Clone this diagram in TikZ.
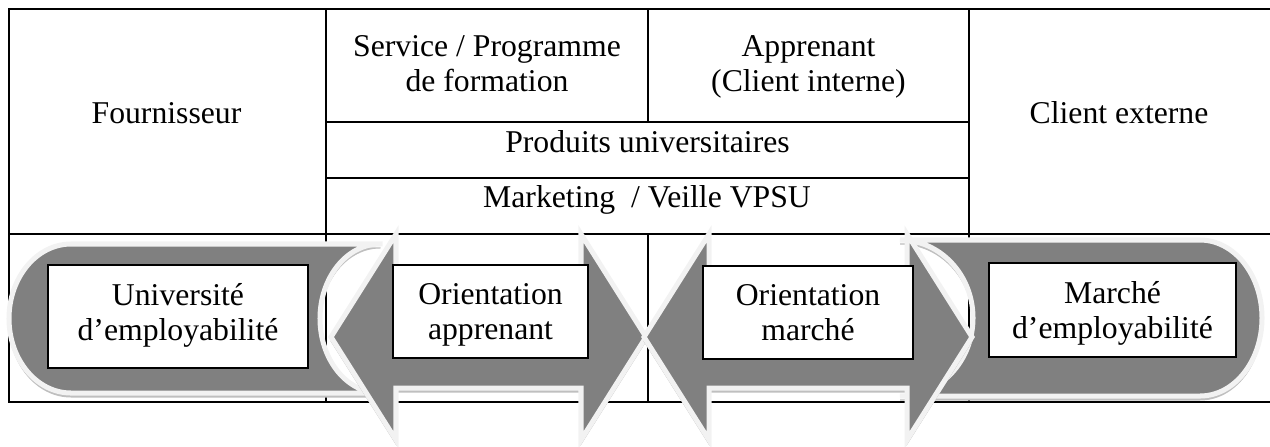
\documentclass[tikz,border=0pt]{standalone}
\usepackage{fontspec}
\setmainfont{Liberation Serif}
\usepackage{tikz}
\usetikzlibrary{shadows}
\newlength\pxu
\setlength\pxu{0.3785pt}
\tikzset{cell/.style={font=\fontsize{12}{13.3}\selectfont, align=center, inner sep=0pt},
  tabline/.style={line width=0.75pt},
  band/.style={fill=black!50, draw=black!5, line width=1.9pt,
    preaction={fill=black!25, draw=black!25, transform canvas={yshift=-1.5pt}}},
  lbl/.style={draw=black, fill=white, line width=0.7pt, inner sep=0pt,
    drop shadow={shadow xshift=0.5pt, shadow yshift=-0.5pt, fill=black!55, opacity=1}}}

\begin{document}
\begin{tikzpicture}[x=\pxu, y=-\pxu]
\useasboundingbox (0,0) rectangle (1270,446);
\draw[tabline] (1270,9) -- (9,9) -- (9,402) -- (1270,402);
\draw[tabline] (9,234) -- (1270,234);
\draw[tabline] (326,122) -- (969,122);
\draw[tabline] (326,178) -- (969,178);
\draw[tabline] (326,9) -- (326,402);
\draw[tabline] (648,9) -- (648,122);
\draw[tabline] (648,234) -- (648,402);
\draw[tabline] (969,9) -- (969,402);
\node[cell, anchor=base] (fourn) at (166.5,123) {Fournisseur};
\node[cell] (serv) at (487,63.8) {Service / Programme\\de formation};
\node[cell] (appr) at (808.5,66.6) {Apprenant\\(Client interne)};
\node[cell, anchor=base] (prod) at (647.5,152) {Produits universitaires};
\node[cell, anchor=base] (mark) at (647,207) {Marketing~~/ Veille VPSU};
\node[cell, anchor=base] (clext) at (1119,123) {Client externe};
\draw[band] (380,244) -- (71,244) arc[start angle=270, end angle=90, x radius=62, y radius=74.5]
  -- (380,393) arc[start angle=90, end angle=270, x radius=60, y radius=74.5] -- cycle;
\draw[band] (900,240) -- (1200,240) arc[start angle=270, end angle=450, x radius=62, y radius=78]
  -- (900,396) arc[start angle=90, end angle=-90, x radius=73, y radius=78] -- cycle;
\draw[band] (331,337) -- (396,234) -- (396,286) -- (581,286) -- (581,234) -- (646,337)
  -- (581,440) -- (581,388) -- (396,388) -- (396,440) -- cycle;
\draw[band] (644,337) -- (709,234) -- (709,286) -- (907,286) -- (907,234) -- (972,337)
  -- (907,440) -- (907,388) -- (709,388) -- (709,440) -- cycle;
\node[lbl, minimum width=260*\pxu, minimum height=103*\pxu] (univ) at (178,316.5) {};
\node[lbl, minimum width=195*\pxu, minimum height=93*\pxu] (orapp) at (490.5,311.5) {};
\node[lbl, minimum width=210*\pxu, minimum height=93*\pxu] (ormar) at (808,312.5) {};
\node[lbl, minimum width=247*\pxu, minimum height=94*\pxu] (march) at (1112.5,310) {};
\node[cell] (univtxt) at ([yshift=1.4*\pxu]univ.center) {Université\\d’employabilité};
\node[cell] (orapptxt) at ([yshift=-3.7*\pxu]orapp.center) {Orientation\\apprenant};
\node[cell] (ormartxt) at ([yshift=-0.5*\pxu]ormar.center) {Orientation\\marché};
\node[cell] (marchtxt) at ([yshift=-3.6*\pxu]march.center) {Marché\\d’employabilité};
\end{tikzpicture}
\end{document}
